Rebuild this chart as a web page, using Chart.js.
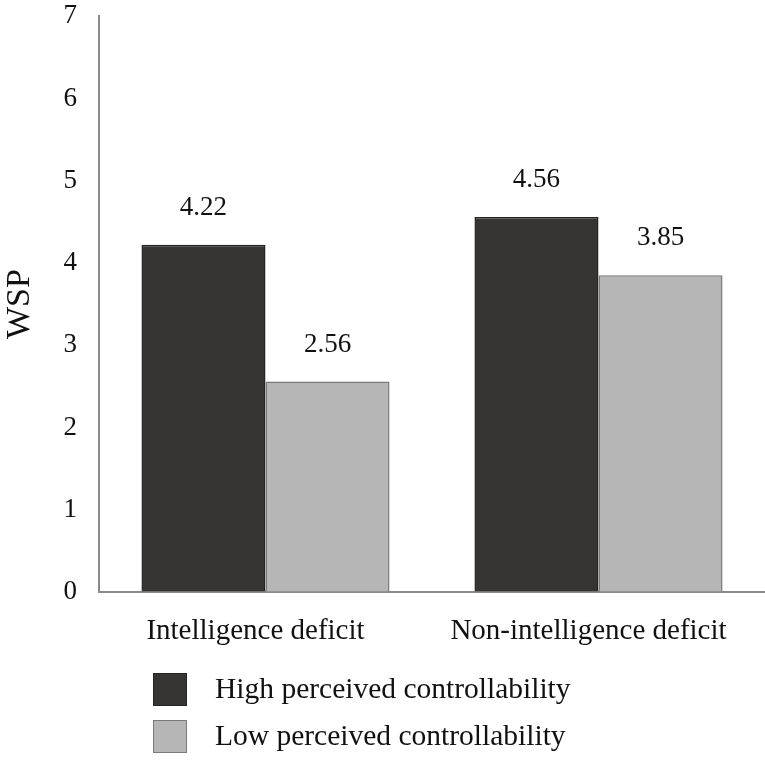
<!DOCTYPE html>
<html>
<head>
<meta charset="utf-8">
<script src="https://cdn.jsdelivr.net/npm/chart.js@4"></script>
<style>
  html, body { margin: 0; padding: 0; background: #fff; }
  #wrap { position: relative; width: 765px; height: 760px; overflow: hidden; }
  #legend { position: absolute; left: 153px; top: 0; font-family: "Liberation Serif", serif; font-size: 29.5px; color: #111; }
  #legend .sw { position: absolute; left: 0; top: 0; width: 32px; height: 31px; border: 1.5px solid; }
  #legend span { position: absolute; left: 62px; top: -2px; white-space: nowrap; line-height: 34px; }
</style>
</head>
<body>
<div id="wrap">
  <canvas id="wspChart" width="765" height="760"></canvas>
  <div id="legend"></div>
</div>
<script>
const categories = ['Intelligence deficit', 'Non-intelligence deficit'];
const seriesNames = ['High perceived controllability', 'Low perceived controllability'];
const highValues = [4.22, 4.56];
const lowValues = [2.56, 3.85];
const yTicks = [0, 1, 2, 3, 4, 5, 6, 7];

const fills = ['#373533', '#b6b6b6'];
const borders = ['#262422', '#7a7a7a'];

// value labels above each bar
const valueLabels = {
    id: 'valueLabels',
    afterDatasetsDraw(chart) {
        const ctx = chart.ctx;
        ctx.save();
        ctx.font = '27px "Liberation Serif"';
        ctx.fillStyle = '#111';
        ctx.textAlign = 'center';
        ctx.textBaseline = 'middle';
        chart.data.datasets.forEach((ds, i) => {
            chart.getDatasetMeta(i).data.forEach((bar, j) => {
                ctx.fillText(ds.data[j].toFixed(2), bar.x, bar.y - 37);
            });
        });
        ctx.restore();
    }
};

const ctx = document.getElementById('wspChart').getContext('2d');
new Chart(ctx, {
    type: 'bar',
    data: {
        labels: categories,
        datasets: [
            { label: seriesNames[0], data: highValues, backgroundColor: fills[0], borderColor: borders[0], borderWidth: 1.5 },
            { label: seriesNames[1], data: lowValues, backgroundColor: fills[1], borderColor: borders[1], borderWidth: 1.5 }
        ]
    },
    options: {
        responsive: false,
        animation: false,
        devicePixelRatio: 1,
        layout: { padding: { top: 15, right: 0, bottom: 0, left: 0 } },
        categoryPercentage: 0.745,
        barPercentage: 1.0,
        plugins: {
            legend: { display: false },
            tooltip: { enabled: false }
        },
        scales: {
            x: {
                grid: { display: false },
                border: { color: '#8a8a8a', width: 2 },
                ticks: { color: '#111', font: { family: 'Liberation Serif', size: 29 }, padding: 14, labelOffset: -10 },
                afterFit: s => { s.height = 168; }
            },
            y: {
                min: 0,
                max: 7,
                grid: { display: true, drawOnChartArea: false, drawTicks: true, tickLength: 22, color: 'rgba(0,0,0,0)' },
                border: { color: '#8a8a8a', width: 2 },
                afterBuildTicks: s => { s.ticks = yTicks.map(v => ({ value: v })); },
                ticks: { color: '#111', font: { family: 'Liberation Serif', size: 27 }, padding: 0 },
                title: { display: true, text: 'WSP', color: '#111', font: { family: 'Liberation Serif', size: 34 }, padding: 0 },
                afterFit: s => { s.width = 99; }
            }
        }
    },
    plugins: [valueLabels]
});

const legend = document.getElementById('legend');
seriesNames.forEach((name, i) => {
    const item = document.createElement('div');
    item.style.position = 'absolute';
    item.style.top = (673 + i * 47) + 'px';
    item.innerHTML = '<div class="sw" style="background:' + fills[i] + ';border-color:' + borders[i] + '"></div><span>' + name + '</span>';
    legend.appendChild(item);
});
</script>
</body>
</html>
